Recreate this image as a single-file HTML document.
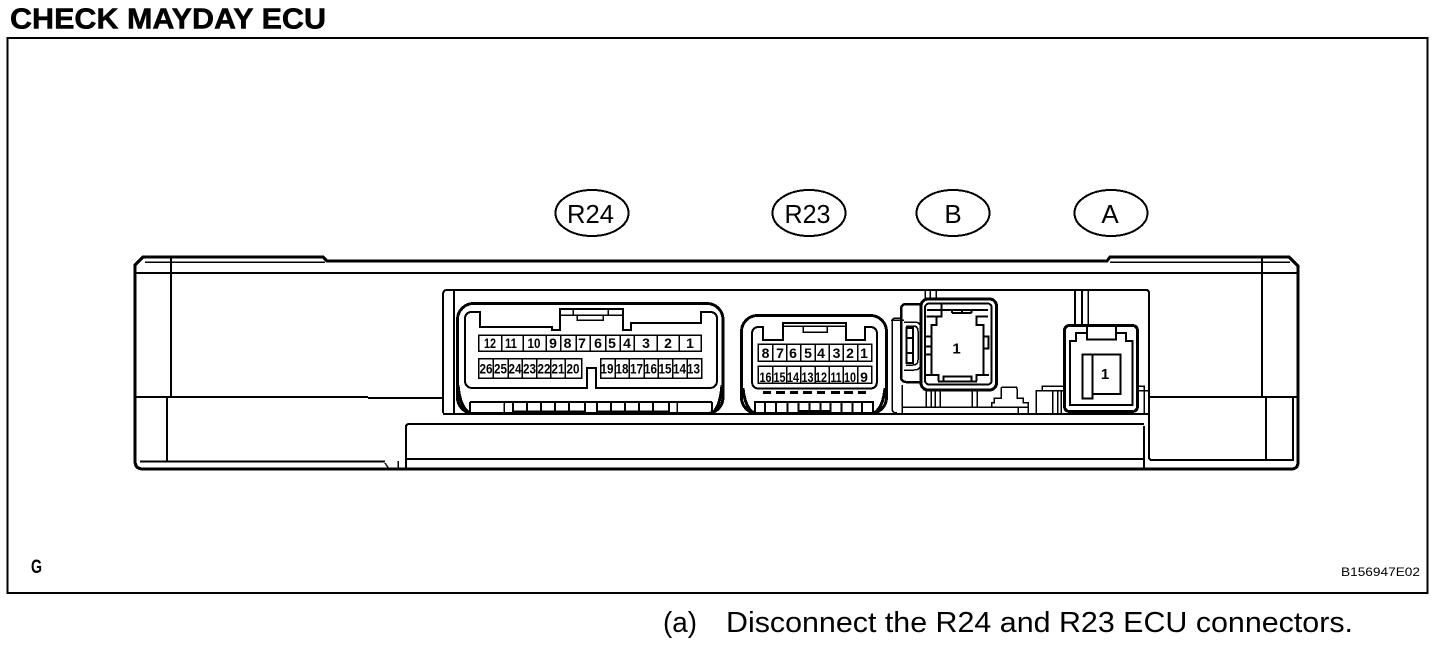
<!DOCTYPE html>
<html><head><meta charset="utf-8"><style>
html,body{margin:0;padding:0;background:#fff}
svg{display:block;shape-rendering:crispEdges}
text{font-family:"Liberation Sans",sans-serif;fill:#000}
.n text{font-weight:bold;font-size:14px;text-anchor:middle}
.l{fill:none;stroke:#000;stroke-width:1.5}
.m{fill:none;stroke:#000;stroke-width:2}
.t{fill:none;stroke:#000;stroke-width:3}
</style></head><body>
<svg width="1456" height="654" viewBox="0 0 1456 654" xmlns="http://www.w3.org/2000/svg">
<rect width="1456" height="654" fill="#fff"/>
<text x="10" y="28.500" font-size="29" font-weight="bold" textLength="316" lengthAdjust="spacingAndGlyphs" stroke="#000" stroke-width=".5">CHECK MAYDAY ECU</text>
<rect x="7.500" y="38" width="1420" height="555" fill="none" stroke="#000" stroke-width="2.400"/>

<ellipse cx="592" cy="213" rx="36.500" ry="23" class="m"/>
<text x="590.500" y="223" font-size="26" text-anchor="middle" textLength="47" lengthAdjust="spacingAndGlyphs">R24</text>
<ellipse cx="809" cy="213" rx="36.500" ry="23" class="m"/>
<text x="807.500" y="223" font-size="26" text-anchor="middle" textLength="46" lengthAdjust="spacingAndGlyphs">R23</text>
<ellipse cx="953" cy="213" rx="36.500" ry="23" class="m"/>
<text x="953" y="223" font-size="26" text-anchor="middle">B</text>
<ellipse cx="1111" cy="213" rx="36.500" ry="23" class="m"/>
<text x="1110" y="223" font-size="26" text-anchor="middle">A</text>

<!-- body -->
<path class="t" d="M143 257H323L327 261H1107L1110 257H1289L1298 266V462Q1298 469 1291 469H143Q135 469 135 461V265Z"/>
<path class="l" d="M145 262H325M1110 262H1290"/>
<path class="m" d="M135 273H1298M171 257V397M135 397H368M368 398H444M167 397V461M140 461.500H385"/>
<path class="l" d="M385 463L389 469M398 461V469"/>
<path class="m" d="M406 469V427Q406 424 409 424H1144M406 459H1144M1144 426V469"/>
<path class="m" d="M447 290H1146Q1149 290 1149 293V457Q1149 460 1152 460H1293V397M1149 397H1298M1262 257V397M1266 397V460"/>
<path class="m" d="M443 413V295Q443 290 447 290M454 290V413M443 414H1149"/>
<path class="l" d="M1297 397V460"/>
<path class="m" d="M1075 290V325M1082 290V325"/><path class="l" d="M1088 290V325"/>

<!-- R24 -->
<rect x="457.500" y="303.500" width="265.500" height="110" rx="16" fill="#fff" stroke="#000" stroke-width="3"/>
<path class="m" d="M480 312H472Q465 312 465 319V380Q465 388 473 388H587V368H596V388H709Q717 388 717 380V319Q717 312 710 312H701V323H631V330H623V309H560V330H552V327H480Z"/>
<path class="l" d="M560 315H623M573 309V315H608V309M577 315V320H603V315"/>
<path class="t" d="M458 385Q460 408 470 413M722 385Q720 408 712 413"/>
<path class="m" d="M470 402H712M470 402V413M712 402V413M470 413.500H712"/>
<path class="l" d="M504 402V413M677 402V413"/>
<path class="m" d="M513 402V412M527 402V412M541 402V412M555 402V412M569 402V412M585 402V412M597 402V412M611 402V412M625 402V412M639 402V412M653 402V412M669 402V412"/>
<path class="m" d="M513 411.500H585M597 411.500H669"/>
<path class="l" d="M478.500 335H701V351H478.500ZM501.700 335V351M523.300 335V351M546 335V351M560.700 335V351M576 335V351M590 335V351M605.700 335V351M620 335V351M634.300 335V351M657.300 335V351M679.300 335V351"/>
<path class="l" d="M478.500 358.500H581.700V378H478.500ZM493.300 358.500V378M508.300 358.500V378M522.300 358.500V378M536.700 358.500V378M550.700 358.500V378M565 358.500V378"/>
<path class="l" d="M600.700 358.500H701.700V378H600.700ZM615 358.500V378M629.300 358.500V378M644 358.500V378M658.300 358.500V378M672.700 358.500V378M687.300 358.500V378"/>
<g class="n">
<text x="490" y="348" textLength="12" lengthAdjust="spacingAndGlyphs">12</text><text x="511" y="348" textLength="12" lengthAdjust="spacingAndGlyphs">11</text><text x="534" y="348" textLength="13" lengthAdjust="spacingAndGlyphs">10</text><text x="553" y="348">9</text><text x="567.500" y="348">8</text><text x="582" y="348">7</text><text x="598" y="348">6</text><text x="612" y="348">5</text><text x="627" y="348">4</text><text x="646" y="348">3</text><text x="668" y="348">2</text><text x="690" y="348">1</text>
<text x="486" y="373.500" textLength="13" lengthAdjust="spacingAndGlyphs">26</text><text x="500.500" y="373.500" textLength="13" lengthAdjust="spacingAndGlyphs">25</text><text x="515" y="373.500" textLength="13" lengthAdjust="spacingAndGlyphs">24</text><text x="529.500" y="373.500" textLength="13" lengthAdjust="spacingAndGlyphs">23</text><text x="544" y="373.500" textLength="13" lengthAdjust="spacingAndGlyphs">22</text><text x="558" y="373.500" textLength="13" lengthAdjust="spacingAndGlyphs">21</text><text x="573" y="373.500" textLength="13" lengthAdjust="spacingAndGlyphs">20</text>
<text x="607" y="373.500" textLength="13" lengthAdjust="spacingAndGlyphs">19</text><text x="622" y="373.500" textLength="13" lengthAdjust="spacingAndGlyphs">18</text><text x="636.500" y="373.500" textLength="13" lengthAdjust="spacingAndGlyphs">17</text><text x="650.500" y="373.500" textLength="13" lengthAdjust="spacingAndGlyphs">16</text><text x="665" y="373.500" textLength="13" lengthAdjust="spacingAndGlyphs">15</text><text x="679.500" y="373.500" textLength="13" lengthAdjust="spacingAndGlyphs">14</text><text x="693.500" y="373.500" textLength="13" lengthAdjust="spacingAndGlyphs">13</text>
</g>

<!-- R23 -->
<rect x="741.500" y="315.500" width="145" height="98" rx="16" fill="#fff" stroke="#000" stroke-width="3"/>
<path class="m" d="M763 327H759Q752 327 752 334V381Q752 388.500 759 388.500H870Q877 388.500 877 381V334Q877 327 870 327H865V340H846V323H783V340H763Z"/>
<path class="l" d="M783 326H846M803 327V332H827V327"/>
<path class="t" d="M743 388Q745 408 754 413M885 388Q883 408 874 413"/>
<path class="t" d="M763 392.500H771M776 392.500H785M790 392.500H798M803 392.500H812M817 392.500H825M831 392.500H840M844 392.500H853M858 392.500H866"/>
<path class="m" d="M754 402H874M754 413.500H874M798 411H831"/>
<path class="m" d="M755 402V413M765 402V413M776 402V413M787.500 402V413M798.700 402V413M809.700 402V411M820.700 402V411M830.700 402V413M841.300 402V413M852.300 402V413M862 402V413M873 402V413"/>
<path class="l" d="M758.300 344H871.700V361H758.300ZM772.700 344V361M786.700 344V361M800.700 344V361M815 344V361M829.300 344V361M843.300 344V361M857.700 344V361"/>
<path class="l" d="M758.300 366H871.700V383H758.300ZM772.700 366V383M786.700 366V383M800.700 366V383M815 366V383M829.300 366V383M843.300 366V383M857.700 366V383"/>
<g class="n">
<text x="765.500" y="358">8</text><text x="780" y="358">7</text><text x="793" y="358">6</text><text x="808" y="358">5</text><text x="821" y="358">4</text><text x="836.500" y="358">3</text><text x="850" y="358">2</text><text x="864" y="358">1</text>
<text x="765.500" y="382" textLength="12" lengthAdjust="spacingAndGlyphs">16</text><text x="779.500" y="382" textLength="12" lengthAdjust="spacingAndGlyphs">15</text><text x="793" y="382" textLength="12" lengthAdjust="spacingAndGlyphs">14</text><text x="807.500" y="382" textLength="12" lengthAdjust="spacingAndGlyphs">13</text><text x="821" y="382" textLength="12" lengthAdjust="spacingAndGlyphs">12</text><text x="836" y="382" textLength="11" lengthAdjust="spacingAndGlyphs">11</text><text x="850" y="382" textLength="12" lengthAdjust="spacingAndGlyphs">10</text><text x="864" y="382">9</text>
</g>

<!-- B -->
<path class="l" d="M901 318H896Q892 318 892 322V408Q892 413 897 413M903 407H1028V414M1018 407V414M1028 407V402.500H1023V398H1017V389Q1017 387 1015 387H1003Q1001 387 1001 389V398H994V402.500H991.700V407M902 385V413"/>
<path class="l" d="M925 290V299M930 290V299M936 290V299M926 390V407M931 390V407M935 390V407M940 390V407M972 390V407M977 390V407"/>
<rect x="901" y="304" width="24" height="78" rx="5" fill="#fff" stroke="#000" stroke-width="2.500"/>
<path class="l" d="M891 320H904M904 322H914Q921 322 921 329V363Q921 370 914 370H904M906 326H913Q918 326 918 331V360Q918 365 913 365H906"/>
<path class="m" d="M906.700 328H913V363H906.700ZM906.700 338H913M906.700 353H913"/>
<rect x="921" y="299" width="75.500" height="91" rx="7" fill="#fff" stroke="#000" stroke-width="3"/>
<rect x="925" y="303.500" width="66.700" height="81" rx="4" class="m"/>
<path class="m" d="M927 310H988M941.700 303V316.700H926.700M952 310V313M962 310V313M971.700 310V313M952 313H971.700"/>
<path class="m" d="M936.700 316.700V325H931.700V336.700H925.700M925.700 346.700H931.700V336.700M931.700 346.700V354.300H925.700M931.700 354.300V375H938.300V381M926 375H931.700"/>
<path class="m" d="M988 316.700H976.700V325H983.300V336.700H988.300V348.300H983.300V336.700M983.300 348.300V375H976.700V381M976.700 375H989"/>
<path class="m" d="M943.300 381V376.700H971.700V381M938 381.500H977"/>
<text x="956.500" y="353.500" font-size="15" font-weight="bold" text-anchor="middle">1</text>

<!-- right small parts -->
<path class="l" d="M1036 414V390.500H1064M1042 390.500V386H1064M1052.500 390.500V414M1057.500 390.500V414M1061 390.500V414M1138 386H1144V414M1138 390.500H1149"/>

<!-- A -->
<rect x="1064.500" y="325.500" width="73" height="86" rx="5" fill="#fff" stroke="#000" stroke-width="3"/>
<path class="m" d="M1087 326V339.500H1116V326M1087 333H1076V341H1070V405H1132.300V341H1126V333H1116"/>
<rect x="1082.500" y="354.500" width="38" height="39.500" class="m"/>
<rect x="1082.500" y="354.500" width="10" height="44" fill="#fff" stroke="#000" stroke-width="2"/>
<text x="1105" y="379" font-size="15" font-weight="bold" text-anchor="middle">1</text>

<text x="31" y="573" font-size="19" font-weight="bold" textLength="11" lengthAdjust="spacingAndGlyphs">G</text>
<text x="1341" y="576" font-size="12" textLength="79" lengthAdjust="spacingAndGlyphs">B156947E02</text>
<text x="663" y="632" font-size="29" textLength="34" lengthAdjust="spacingAndGlyphs">(a)</text>
<text x="726" y="632" font-size="29" textLength="627" lengthAdjust="spacingAndGlyphs">Disconnect the R24 and R23 ECU connectors.</text>
</svg>
</body></html>
